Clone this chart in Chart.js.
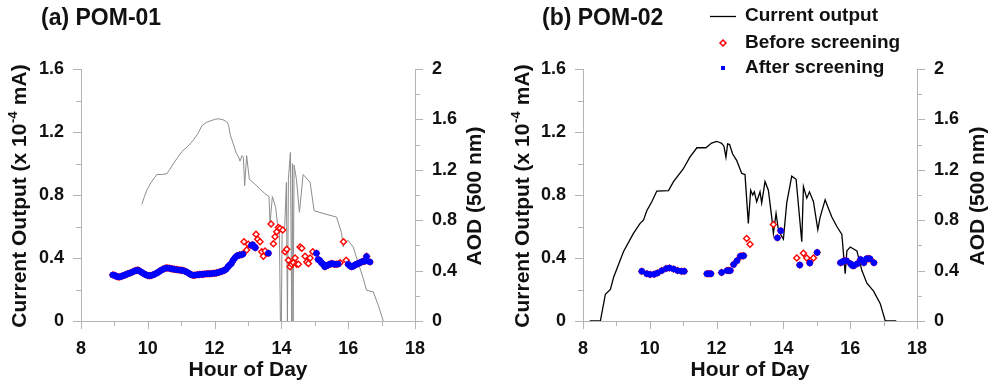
<!DOCTYPE html>
<html><head><meta charset="utf-8">
<script src="https://cdn.jsdelivr.net/npm/chart.js@4.4.0/dist/chart.umd.min.js"></script>
<style>
html,body{margin:0;padding:0;background:#fff;}
#wrap{position:relative;width:990px;height:387px;overflow:hidden;}
canvas{position:absolute;top:0;}
</style></head><body>
<div id="wrap"><canvas id="ca" width="495" height="387" style="left:0"></canvas><canvas id="cb" width="495" height="387" style="left:495px"></canvas></div>
<script>
// ---------- DATA ----------
const panelTitles = ['(a) POM-01', '(b) POM-02'];
const seriesNames = ['Current output', 'Before screening', 'After screening'];
const xTitle = 'Hour of Day';
const aodTitle = 'AOD (500 nm)';

// Panel (a) current output [hour, x10^-4 mA]
const currentA = [[9.82,0.74],[9.9,0.79],[9.97,0.83],[10.1,0.88],[10.2,0.91],[10.27,0.93],[10.4,0.93],[10.57,0.935],[10.65,0.96],[10.77,1.0],[10.9,1.04],[11.02,1.075],[11.2,1.11],[11.37,1.15],[11.5,1.19],[11.62,1.24],[11.75,1.26],[11.87,1.27],[12.0,1.28],[12.12,1.284],[12.25,1.278],[12.38,1.262],[12.42,1.24],[12.47,1.18],[12.55,1.13],[12.65,1.065],[12.72,1.04],[12.76,1.015],[12.82,1.05],[12.86,1.04],[12.9,0.86],[12.96,1.05],[13.04,0.9],[13.2,0.87],[13.35,0.84],[13.5,0.81],[13.63,0.79],[13.66,0.62],[13.73,0.79],[13.83,0.72],[13.88,0.62],[13.94,0.56],[13.97,0],[14.0,0],[14.02,0.55],[14.1,0.6],[14.15,0.88],[14.18,0],[14.21,0.9],[14.27,1.07],[14.31,0],[14.33,1.0],[14.35,0],[14.38,0.99],[14.45,0.9],[14.54,0.69],[14.65,0.93],[14.86,0.88],[14.98,0.7],[15.3,0.68],[15.65,0.66],[15.8,0.56],[15.85,0.47],[15.9,0.5],[16.0,0.51],[16.15,0.47],[16.3,0.37],[16.45,0.27],[16.55,0.195],[16.75,0.185],[16.9,0.1],[17.05,0]];

// Panel (a) AOD kept after screening [hour, AOD]
const aodAfterA = [[8.95,0.366],[9.0,0.363],[9.05,0.356],[9.1,0.351],[9.15,0.35],[9.2,0.354],[9.25,0.359],[9.3,0.363],[9.35,0.369],[9.4,0.375],[9.45,0.379],[9.5,0.384],[9.55,0.39],[9.6,0.396],[9.65,0.401],[9.7,0.404],[9.75,0.398],[9.8,0.389],[9.85,0.38],[9.9,0.373],[9.95,0.366],[10.0,0.361],[10.05,0.359],[10.1,0.361],[10.15,0.366],[10.2,0.371],[10.25,0.378],[10.3,0.385],[10.35,0.394],[10.4,0.403],[10.45,0.41],[10.5,0.416],[10.55,0.421],[10.6,0.42],[10.65,0.418],[10.7,0.415],[10.75,0.413],[10.8,0.41],[10.85,0.408],[10.9,0.406],[10.95,0.404],[11.0,0.403],[11.05,0.4],[11.1,0.396],[11.15,0.391],[11.2,0.384],[11.25,0.375],[11.3,0.368],[11.35,0.364],[11.4,0.364],[11.45,0.366],[11.5,0.368],[11.55,0.369],[11.6,0.37],[11.65,0.371],[11.7,0.373],[11.75,0.374],[11.8,0.375],[11.85,0.375],[11.9,0.376],[11.95,0.378],[12.0,0.379],[12.05,0.381],[12.1,0.385],[12.15,0.389],[12.2,0.393],[12.25,0.398],[12.3,0.403],[12.35,0.413],[12.4,0.431],[12.45,0.444],[12.5,0.456],[12.55,0.481],[12.6,0.498],[12.65,0.513],[12.7,0.52],[12.75,0.524],[12.8,0.525],[12.85,0.531],[13.1,0.6],[13.14,0.606],[13.2,0.588],[13.22,0.581],[13.61,0.538],[15.05,0.538],[15.1,0.488],[15.15,0.481],[15.2,0.463],[15.25,0.45],[15.3,0.431],[15.35,0.438],[15.4,0.444],[15.45,0.45],[15.5,0.456],[15.55,0.453],[15.6,0.45],[15.65,0.45],[15.7,0.453],[16.0,0.45],[16.05,0.438],[16.1,0.431],[16.15,0.435],[16.2,0.444],[16.25,0.45],[16.3,0.456],[16.35,0.463],[16.4,0.469],[16.45,0.475],[16.5,0.475],[16.55,0.513],[16.65,0.469]];
// Panel (a) AOD removed by screening [hour, AOD]
const aodRemovedA = [[12.88,0.629],[12.96,0.563],[13.01,0.61],[13.24,0.688],[13.29,0.648],[13.36,0.629],[13.41,0.55],[13.46,0.513],[13.51,0.556],[13.69,0.77],[13.76,0.613],[13.81,0.669],[13.86,0.709],[13.91,0.743],[13.96,0.735],[14.04,0.723],[14.11,0.55],[14.16,0.569],[14.21,0.483],[14.26,0.43],[14.31,0.45],[14.36,0.463],[14.41,0.5],[14.46,0.45],[14.51,0.45],[14.56,0.588],[14.61,0.578],[14.71,0.513],[14.76,0.469],[14.81,0.456],[14.86,0.5],[14.94,0.55],[15.76,0.463],[15.86,0.629],[15.94,0.483]];

// Panel (b) current output
const currentB = [[8.2,0],[8.52,0],[8.67,0.17],[8.82,0.2],[8.92,0.28],[9.21,0.44],[9.51,0.556],[9.71,0.62],[9.81,0.64],[9.91,0.7],[10.06,0.757],[10.21,0.825],[10.56,0.828],[10.71,0.885],[11.0,0.965],[11.2,1.04],[11.41,1.1],[11.68,1.1],[11.85,1.13],[12.0,1.14],[12.08,1.135],[12.15,1.128],[12.22,1.11],[12.28,1.04],[12.33,1.125],[12.39,1.12],[12.48,1.06],[12.6,1.02],[12.75,0.938],[12.85,0.93],[12.95,0.62],[13.02,0.83],[13.08,0.8],[13.13,0.82],[13.2,0.757],[13.3,0.82],[13.35,0.75],[13.45,0.885],[13.55,0.83],[13.65,0.66],[13.7,0.556],[13.78,0.683],[13.85,0.58],[13.93,0.545],[14.0,0.52],[14.1,0.75],[14.25,0.92],[14.38,0.9],[14.55,0.503],[14.6,0.853],[14.7,0.78],[14.78,0.82],[14.9,0.757],[15.03,0.58],[15.1,0.66],[15.25,0.77],[15.32,0.73],[15.45,0.66],[15.6,0.6],[15.75,0.55],[15.85,0.3],[15.9,0.445],[16.0,0.47],[16.2,0.445],[16.35,0.32],[16.5,0.24],[16.7,0.19],[16.9,0.11],[17.05,0],[17.38,0]];
const aodAfterB = [[9.76,0.395],[9.91,0.375],[10.01,0.369],[10.13,0.371],[10.23,0.381],[10.36,0.4],[10.49,0.416],[10.59,0.421],[10.71,0.413],[10.83,0.4],[10.95,0.395],[11.03,0.395],[11.71,0.375],[11.77,0.375],[11.83,0.375],[12.15,0.385],[12.31,0.4],[12.36,0.4],[12.41,0.4],[12.51,0.448],[12.61,0.478],[12.71,0.515],[12.76,0.515],[12.81,0.518],[13.82,0.66],[13.92,0.716],[14.49,0.444],[14.79,0.46],[15.01,0.544],[15.71,0.463],[15.77,0.47],[15.82,0.479],[15.89,0.479],[16.01,0.455],[16.06,0.44],[16.11,0.438],[16.21,0.455],[16.31,0.488],[16.41,0.463],[16.49,0.494],[16.54,0.494],[16.59,0.494],[16.71,0.463]];
const aodRemovedB = [[12.9,0.655],[13.0,0.61],[13.7,0.766],[14.4,0.5],[14.6,0.538],[14.7,0.5],[14.9,0.5]];

// axis ranges / ticks
const xRange = [8, 18], xStep = 1, xLabelEvery = 2;
const leftRange = [0, 1.6], rightRange = [0, 2], yStep = 0.2, yLabelEvery = 0.4;

// ---------- STYLE ----------
const FONT = '"Liberation Sans", Arial, Helvetica, sans-serif';
const AXIS = '#b4b4b4';
const TXT = '#111111';
function isMult(v, s){ return Math.abs(v/s - Math.round(v/s)) < 1e-6; }
function fmt(v){ return String(Math.round(v*10)/10); }
function toXY(a){ return a.map(p => ({x:p[0], y:p[1]})); }

const tickPlugin = {
  id: 'minorTicks',
  afterDraw(chart){
    const ctx = chart.ctx; ctx.save(); ctx.strokeStyle = AXIS; ctx.lineWidth = 1;
    const ln = (a,b,c,d) => { ctx.beginPath(); ctx.moveTo(a,b); ctx.lineTo(c,d); ctx.stroke(); };
    const sx = chart.scales.x, sy = chart.scales.y, sy2 = chart.scales.y2;
    sx.ticks.forEach(t => { const p = Math.round(sx.getPixelForValue(t.value)) + 0.5; const L = isMult(t.value, xLabelEvery) ? 8 : 5; ln(p, sx.top, p, sx.top + L); });
    sy.ticks.forEach(t => { const p = Math.round(sy.getPixelForValue(t.value)) + 0.5; const L = isMult(t.value, yLabelEvery) ? 8 : 5; ln(sy.right - L, p, sy.right, p); });
    sy2.ticks.forEach(t => { const p = Math.round(sy2.getPixelForValue(t.value)) + 0.5; const L = isMult(t.value, yLabelEvery) ? 8 : 5; ln(sy2.left, p, sy2.left + L, p); });
    ctx.restore();
  }
};

function drawLeftTitle(ctx, cx, cy){
  ctx.save(); ctx.translate(cx, cy); ctx.rotate(-Math.PI/2);
  const big = 'bold 21px ' + FONT, small = 'bold 13px ' + FONT;
  const p1 = 'Current Output (x 10', sup = '-4', p2 = ' mA)';
  ctx.font = big; const w1 = ctx.measureText(p1).width, w3 = ctx.measureText(p2).width;
  ctx.font = small; const w2 = ctx.measureText(sup).width + 1;
  let x = -(w1 + w2 + w3) / 2;
  ctx.textBaseline = 'middle'; ctx.textAlign = 'left'; ctx.fillStyle = TXT;
  ctx.font = big; ctx.fillText(p1, x, 0); x += w1;
  ctx.font = small; ctx.fillText(sup, x + 0.5, -7); x += w2;
  ctx.font = big; ctx.fillText(p2, x, 0);
  ctx.restore();
}
function drawRotated(ctx, text, cx, cy, font){
  ctx.save(); ctx.translate(cx, cy); ctx.rotate(-Math.PI/2);
  ctx.font = font; ctx.fillStyle = TXT; ctx.textAlign = 'center'; ctx.textBaseline = 'middle';
  ctx.fillText(text, 0, 0); ctx.restore();
}

function textPlugin(o){
  return {
    id: 'texts',
    afterDraw(chart){
      const ctx = chart.ctx, ca = chart.chartArea;
      ctx.save();
      ctx.fillStyle = TXT; ctx.textBaseline = 'middle'; ctx.textAlign = 'left';
      ctx.font = 'bold 23px ' + FONT;
      ctx.fillText(o.title, o.titleX, 19);
      ctx.textAlign = 'center'; ctx.font = 'bold 21px ' + FONT;
      ctx.fillText(xTitle, (ca.left + ca.right) / 2, 370);
      drawLeftTitle(ctx, o.leftTitleX, 196);
      drawRotated(ctx, aodTitle, o.rightTitleX, 196, 'bold 21px ' + FONT);
      if (o.legend){
        const lx = 215, tx = 250;
        ctx.strokeStyle = '#000'; ctx.lineWidth = 1.3;
        ctx.beginPath(); ctx.moveTo(lx, 16.5); ctx.lineTo(lx + 26, 16.5); ctx.stroke();
        ctx.strokeStyle = '#ff0000'; ctx.lineWidth = 1.5; ctx.fillStyle = '#fff';
        ctx.beginPath(); ctx.moveTo(228, 40); ctx.lineTo(231, 43); ctx.lineTo(228, 46); ctx.lineTo(225, 43); ctx.closePath(); ctx.fill(); ctx.stroke();
        ctx.fillStyle = '#0000ff'; ctx.fillRect(226, 66, 4, 4);
        ctx.fillStyle = TXT; ctx.textAlign = 'left'; ctx.font = 'bold 19px ' + FONT;
        ctx.fillText(seriesNames[0], tx, 16);
        ctx.fillText(seriesNames[1], tx, 43);
        ctx.fillText(seriesNames[2], tx, 68);
      }
      ctx.restore();
    }
  };
}

function makeChart(id, o){
  const tickFont = {family: FONT, size: 18, weight: 'bold'};
  const before = o.after.concat(o.removed).sort((a,b) => a[0]-b[0]);
  return new Chart(document.getElementById(id), {
    type: 'scatter',
    data: { datasets: [
      {label: seriesNames[0], data: toXY(o.current), showLine: true, fill: false, borderColor: o.lineColor, borderWidth: o.lineWidth, pointRadius: 0, tension: 0, yAxisID: 'y', order: 3},
      {label: seriesNames[1], data: toXY(before), pointStyle: 'rectRot', pointRadius: 3, borderColor: '#ff0000', backgroundColor: '#ffffff', borderWidth: 1.4, yAxisID: 'y2', order: 2},
      {label: seriesNames[2], data: toXY(o.after), pointStyle: 'circle', pointRadius: 3.2, borderWidth: 0, borderColor: '#0000ff', backgroundColor: '#0000ff', yAxisID: 'y2', order: 1}
    ]},
    options: {
      responsive: false, animation: false, devicePixelRatio: 1,
      layout: {padding: {top: 69, left: 0, right: 0, bottom: 0}},
      plugins: {legend: {display: false}, tooltip: {enabled: false}},
      scales: {
        x: {type: 'linear', position: 'bottom', min: xRange[0], max: xRange[1],
            ticks: {stepSize: xStep, autoSkip: false, maxRotation: 0, padding: 17, color: TXT, font: tickFont,
                    callback: v => isMult(v, xLabelEvery) ? String(v) : ''},
            grid: {display: true, drawOnChartArea: false, drawTicks: false, color: AXIS},
            border: {display: true, color: AXIS, width: 1},
            afterFit(s){ s.height = 66; }},
        y: {type: 'linear', position: 'left', min: leftRange[0], max: leftRange[1],
            ticks: {stepSize: yStep, autoSkip: false, padding: 17, color: TXT, font: tickFont,
                    callback: v => isMult(v, yLabelEvery) ? fmt(v) : ''},
            grid: {display: true, drawOnChartArea: false, drawTicks: false, color: AXIS},
            border: {display: true, color: AXIS, width: 1},
            afterFit(s){ s.width = o.leftW; }},
        y2: {type: 'linear', position: 'right', min: rightRange[0], max: rightRange[1],
            ticks: {stepSize: yStep, autoSkip: false, padding: 17, color: TXT, font: tickFont,
                    callback: v => isMult(v, yLabelEvery) ? fmt(v) : ''},
            grid: {display: true, drawOnChartArea: false, drawTicks: false, color: AXIS},
            border: {display: true, color: AXIS, width: 1},
            afterFit(s){ s.width = o.rightW; }}
      }
    },
    plugins: [tickPlugin, textPlugin(o)]
  });
}

makeChart('ca', {current: currentA, after: aodAfterA, removed: aodRemovedA, lineColor: '#8c8c8c', lineWidth: 1,
  leftW: 81, rightW: 80, title: panelTitles[0], titleX: 41, leftTitleX: 20, rightTitleX: 475, legend: false});
makeChart('cb', {current: currentB, after: aodAfterB, removed: aodRemovedB, lineColor: '#000000', lineWidth: 1.3,
  leftW: 88, rightW: 73, title: panelTitles[1], titleX: 47, leftTitleX: 28, rightTitleX: 483, legend: true});
</script>
</body></html>
